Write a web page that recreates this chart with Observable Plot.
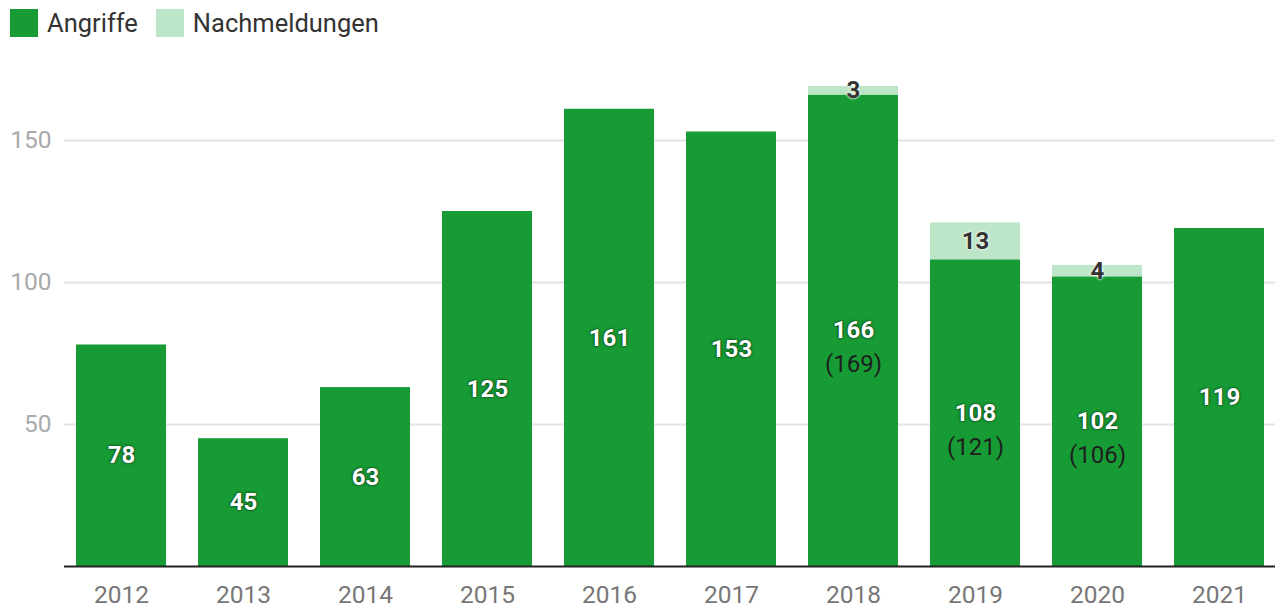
<!DOCTYPE html>
<html><head><meta charset="utf-8">
<script src="https://cdn.jsdelivr.net/npm/d3@7"></script>
<script src="https://cdn.jsdelivr.net/npm/@observablehq/plot@0.6"></script>
<style>
body{margin:0;background:#fff;font-family:Roboto,"Noto Sans",sans-serif;}
#legend{display:flex;align-items:center;height:45px;padding-left:10px;font-size:25.5px;color:#333;}
.sw{width:28px;height:28px;margin-right:9px;}
.item{display:flex;align-items:center;margin-right:18px;}
.shadow{ text-shadow:0 0 3px rgba(0,0,0,0.7), 0 0 1px rgba(0,0,0,0.5); }
.glow{ text-shadow:0 0 3px #fff, 0 0 2px #fff; }
</style></head>
<body>
<div id="legend"></div>
<div id="chart"></div>
<script>
const years = ["2012","2013","2014","2015","2016","2017","2018","2019","2020","2021"];
const angriffe = [78,45,63,125,161,153,166,108,102,119];
const nachmeldungen = [0,0,0,0,0,0,3,13,4,0];
const series = ["Angriffe","Nachmeldungen"];
const colors = ["#179b35","#bde5c8"];
const yTicks = [50,100,150];

const legend = document.getElementById("legend");
series.forEach((s,i)=>{
  const d=document.createElement("div");d.className="item";
  d.innerHTML=`<div class="sw" style="background:${colors[i]}"></div><span>${s}</span>`;
  legend.appendChild(d);
});

const rows = years.map((y,i)=>({year:y,a:angriffe[i],n:nachmeldungen[i],total:angriffe[i]+nachmeldungen[i]}));
const long = [];
rows.forEach(r=>{ long.push({year:r.year,series:"Angriffe",value:r.a}); long.push({year:r.year,series:"Nachmeldungen",value:r.n}); });
const withN = rows.filter(r=>r.n>0);

const chart = Plot.plot({
  width:1275, height:565,
  marginLeft:64, marginRight:0, marginTop:24, marginBottom:44,
  style:{fontFamily:"Roboto, sans-serif", fontSize:"24px", background:"#fff", overflow:"visible"},
  x:{domain:years, paddingInner:0.264, paddingOuter:0.083, label:null},
  y:{domain:[0,175], label:null},
  color:{domain:series, range:colors},
  marks:[
    Plot.ruleY(yTicks,{stroke:"#e4e4e4", strokeWidth:2}),
    Plot.barY(long, Plot.stackY({x:"year", y:"value", fill:"series", order:series})),
    Plot.ruleY([0],{stroke:"#222", strokeWidth:2}),
    Plot.text(rows,{x:"year", y:d=>d.a/2, text:d=>String(d.a), fill:"#fff", fontWeight:"bold", fontSize:24, className:"shadow"}),
    Plot.text(withN,{x:"year", y:d=>d.a/2, dy:34, text:d=>`(${d.total})`, fill:"#1e1e1e", fontSize:24}),
    Plot.text(withN,{x:"year", y:d=>d.a + d.n/2, text:d=>String(d.n), fill:"#333", fontWeight:"bold", fontSize:24, className:"glow"}),
    Plot.axisX({tickSize:0, tickPadding:19, fill:"#777", fontSize:24.5}),
    Plot.axisY(yTicks,{tickSize:0, tickPadding:13, fill:"#aaa", fontSize:24.5})
  ]
});
document.getElementById("chart").appendChild(chart);
</script>
</body></html>
